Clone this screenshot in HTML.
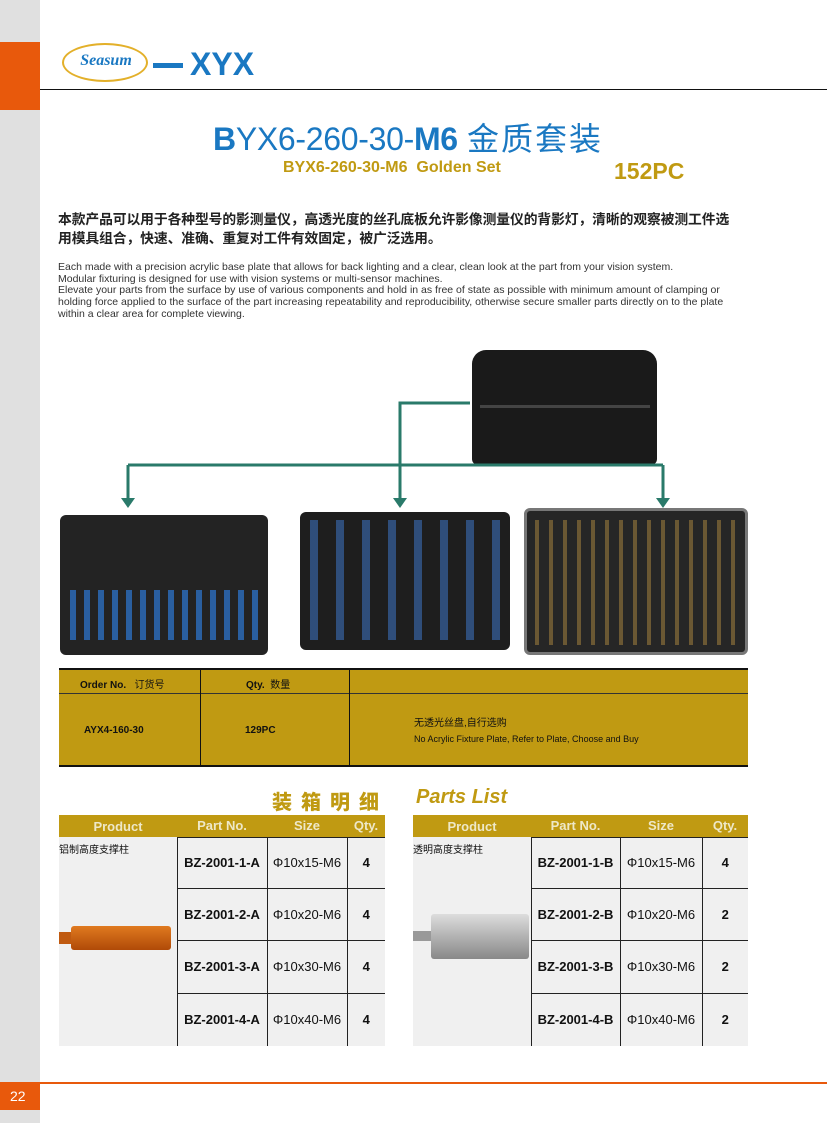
<!DOCTYPE html>
<html><head><meta charset="utf-8">
<style>
*{margin:0;padding:0;box-sizing:border-box}
body{width:827px;height:1123px;position:relative;background:#fff;font-family:"Liberation Sans","Noto Sans CJK SC",sans-serif;overflow:hidden}
.a{position:absolute}
.gold{background:#c09a12}
table{border-collapse:collapse;position:absolute}
.pt td{background:#f0f0f0;font-size:13px;color:#111;text-align:center;border-left:1px solid #222;border-top:1px solid #222}
.pt td.pb{font-weight:bold}
.pt th{background:#c09a12;color:#eee8c8;font-size:13px;font-weight:bold;height:22px}
.pt td.first{border-left:none;border-top:none;text-align:left;vertical-align:top;font-size:10px;padding:4px 0 0 0}
</style></head><body>
<div class="a" style="left:0;top:0;width:40px;height:1123px;background:#e0e0e0"></div>
<div class="a" style="left:0;top:42px;width:40px;height:68px;background:#e8590c"></div>
<div class="a" style="left:40px;top:89px;width:787px;height:1px;background:#111"></div>
<div class="a" style="left:62px;top:43px;width:86px;height:39px;border:2px solid #e3b02a;border-radius:50%"></div>
<div class="a" style="left:70px;top:52px;width:72px;text-align:center;font:italic bold 16px 'Liberation Serif',serif;color:#1a78c2">Seasum</div>
<div class="a" style="left:153px;top:63px;width:30px;height:5px;background:#1a78c2"></div>
<div class="a" style="left:190px;top:46px;font:bold 32px 'Liberation Sans',sans-serif;color:#1a78c2">XYX</div>

<div class="a" style="left:213px;top:114px;font-size:32px;color:#1a78c2;white-space:nowrap;letter-spacing:-0.3px"><b>B</b>YX6-260-30-<b>M6</b><span style="font-family:'Noto Sans CJK SC',sans-serif;letter-spacing:2px"> 金质套装</span></div>
<div class="a" style="left:283px;top:159px;font-size:16px;font-weight:bold;color:#c09a12;white-space:nowrap">BYX6-260-30-M6&nbsp; Golden Set</div>
<div class="a" style="left:614px;top:158px;font-size:23px;font-weight:bold;color:#c09a12">152PC</div>

<div class="a" style="left:58px;top:210px;font-size:13.8px;font-weight:bold;line-height:19px;letter-spacing:-0.1px;color:#222;white-space:nowrap">本款产品可以用于各种型号的影测量仪，高透光度的丝孔底板允许影像测量仪的背影灯，清晰的观察被测工件选<br>用模具组合，快速、准确、重复对工件有效固定，被广泛选用。</div>
<div class="a" style="left:58px;top:262px;font-size:10.5px;line-height:11.7px;color:#333;white-space:nowrap">Each made with a precision acrylic base plate that allows for back lighting and a clear, clean look at the part from your vision system.<br>Modular fixturing is designed for use with vision systems or multi-sensor machines.<br>Elevate your parts from the surface by use of various components and hold in as free of state as possible with minimum amount of clamping or<br>holding force applied to the surface of the part increasing repeatability and reproducibility, otherwise secure smaller parts directly on to the plate<br>within a clear area for complete viewing.</div>

<!-- case -->
<div class="a" style="left:472px;top:350px;width:185px;height:115px;background:#1a1a1a;border-radius:14px 14px 6px 6px"></div>
<div class="a" style="left:480px;top:405px;width:170px;height:3px;background:#444"></div>
<svg class="a" style="left:0;top:0" width="827" height="520">
<g stroke="#2a7a6a" stroke-width="3" fill="none">
<path d="M470 403 H400 V500"/><path d="M128 465 H663"/><path d="M128 465 V500"/><path d="M663 465 V500"/>
</g>
<g fill="#2a7a6a"><path d="M121 498 L135 498 L128 508Z"/><path d="M393 498 L407 498 L400 508Z"/><path d="M656 498 L670 498 L663 508Z"/></g>
</svg>
<div class="a" style="left:60px;top:515px;width:208px;height:140px;background:#232323;border-radius:6px"></div>
<div class="a" style="left:300px;top:512px;width:210px;height:138px;background:#1e1e1e;border-radius:6px"></div>
<div class="a" style="left:524px;top:508px;width:224px;height:147px;background:#262626;border:3px solid #777;border-radius:6px"></div>
<div class="a" style="left:70px;top:590px;width:190px;height:50px;background:repeating-linear-gradient(90deg,#2a5fa0 0 6px,transparent 6px 14px)"></div>
<div class="a" style="left:310px;top:520px;width:190px;height:120px;background:repeating-linear-gradient(90deg,#3a6db8 0 8px,transparent 8px 26px);opacity:.6"></div>
<div class="a" style="left:535px;top:520px;width:200px;height:125px;background:repeating-linear-gradient(90deg,#b08a40 0 4px,transparent 4px 14px);opacity:.5"></div>

<!-- order table -->
<div class="a gold" style="left:59px;top:668px;width:689px;height:99px;border-top:2px solid #111;border-bottom:2px solid #111"></div>
<div class="a" style="left:59px;top:693px;width:689px;height:1px;background:#333"></div>
<div class="a" style="left:200px;top:668px;width:1px;height:99px;background:#111"></div>
<div class="a" style="left:349px;top:668px;width:1px;height:99px;background:#111"></div>
<div class="a" style="left:80px;top:676px;font-size:10px;font-weight:bold;color:#111">Order No.&nbsp;&nbsp; <span style="font-weight:normal">订货号</span></div>
<div class="a" style="left:246px;top:676px;font-size:10px;font-weight:bold;color:#111">Qty.&nbsp; <span style="font-weight:normal">数量</span></div>
<div class="a" style="left:84px;top:725px;font-size:10px;font-weight:bold;color:#111">AYX4-160-30</div>
<div class="a" style="left:245px;top:725px;font-size:10px;font-weight:bold;color:#111">129PC</div>
<div class="a" style="left:414px;top:714px;font-size:10px;color:#111">无透光丝盘,自行选购</div>
<div class="a" style="left:414px;top:734px;font-size:9px;color:#111">No Acrylic Fixture Plate, Refer to Plate, Choose and Buy</div>

<div class="a" style="left:272px;top:786px;font-size:20px;font-weight:900;color:#c09a12;letter-spacing:9px;font-family:'Noto Sans CJK SC',sans-serif">装箱明细</div>
<div class="a" style="left:416px;top:786px;font-size:20px;font-weight:bold;font-style:italic;color:#c09a12">Parts List</div>

<table class="pt" style="left:59px;top:815px;width:326px">
<tr><th style="width:118px">Product</th><th style="width:90px">Part No.</th><th style="width:80px">Size</th><th>Qty.</th></tr>
<tr style="height:51px"><td class="first" rowspan="4">铝制高度支撑柱
<div style="margin:70px 0 0 0;width:112px;height:24px;position:relative"><div style="position:absolute;left:0;top:6px;width:14px;height:12px;background:#c05a10"></div><div style="position:absolute;left:12px;top:0;width:100px;height:24px;background:linear-gradient(#e07a20,#b04a08);border-radius:3px"></div></div></td><td class="pb">BZ-2001-1-A</td><td>Φ10x15-M6</td><td class="pb">4</td></tr>
<tr style="height:52px"><td class="pb">BZ-2001-2-A</td><td>Φ10x20-M6</td><td class="pb">4</td></tr>
<tr style="height:53px"><td class="pb">BZ-2001-3-A</td><td>Φ10x30-M6</td><td class="pb">4</td></tr>
<tr style="height:53px"><td class="pb">BZ-2001-4-A</td><td>Φ10x40-M6</td><td class="pb">4</td></tr>
</table>
<table class="pt" style="left:413px;top:815px;width:335px">
<tr><th style="width:118px">Product</th><th style="width:89px">Part No.</th><th style="width:82px">Size</th><th>Qty.</th></tr>
<tr style="height:51px"><td class="first" rowspan="4">透明高度支撑柱
<div style="margin:58px 0 0 0;width:116px;height:45px;position:relative"><div style="position:absolute;left:0;top:17px;width:20px;height:10px;background:#999"></div><div style="position:absolute;left:18px;top:0;width:98px;height:45px;background:linear-gradient(#ddd,#888);border-radius:3px"></div></div></td><td class="pb">BZ-2001-1-B</td><td>Φ10x15-M6</td><td class="pb">4</td></tr>
<tr style="height:52px"><td class="pb">BZ-2001-2-B</td><td>Φ10x20-M6</td><td class="pb">2</td></tr>
<tr style="height:53px"><td class="pb">BZ-2001-3-B</td><td>Φ10x30-M6</td><td class="pb">2</td></tr>
<tr style="height:53px"><td class="pb">BZ-2001-4-B</td><td>Φ10x40-M6</td><td class="pb">2</td></tr>
</table>

<div class="a" style="left:0;top:1082px;width:827px;height:2px;background:#e8590c"></div>
<div class="a" style="left:0;top:1084px;width:40px;height:26px;background:#e8590c;color:#fff;font-size:14px;padding:4px 0 0 10px">22</div>
</body></html>
